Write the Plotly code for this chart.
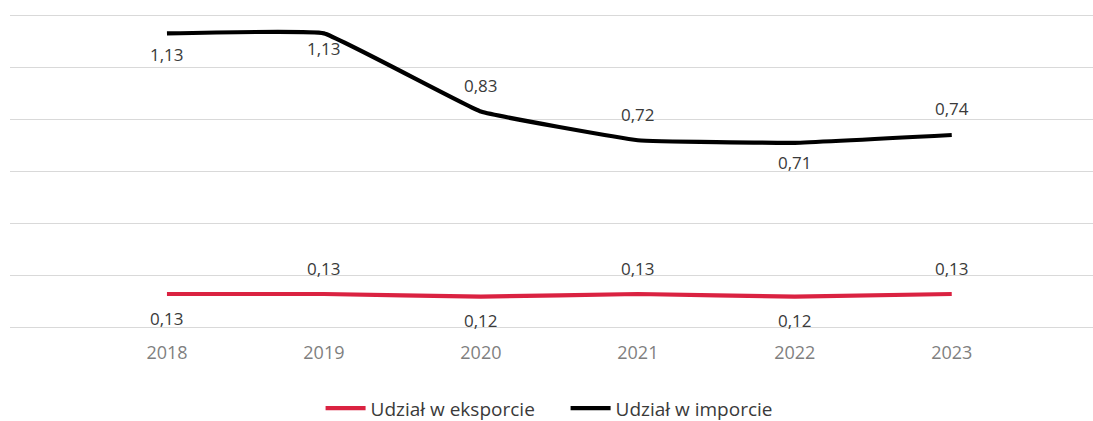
import plotly.graph_objects as go

years = ["2018", "2019", "2020", "2021", "2022", "2023"]
eksport = [0.13, 0.13, 0.12, 0.13, 0.12, 0.13]
import_ = [1.13, 1.13, 0.83, 0.72, 0.71, 0.74]
series_names = ["Udział w eksporcie", "Udział w imporcie"]

# label offsets in pixels (positive = above)
eks_shift = [-25, 25, -24, 25, -24, 25]
imp_shift = [-21, -15, 26, 26, -20, 27]

RED = "#DA2241"
BLACK = "#000000"
LABEL = "#3a3a3a"
FONT = "Open Sans"

xs = list(range(len(years)))

fig = go.Figure()
fig.add_trace(go.Scatter(x=xs, y=eksport, mode="lines", name=series_names[0],
                         line=dict(color=RED, width=4.2, shape="spline", smoothing=0.25),
                         hoverinfo="skip"))
fig.add_trace(go.Scatter(x=xs, y=import_, mode="lines", name=series_names[1],
                         line=dict(color=BLACK, width=4.2, shape="spline", smoothing=0.25),
                         hoverinfo="skip"))

def fmt(v):
    return f"{v:.2f}".replace(".", ",")

for vals, shifts in ((eksport, eks_shift), (import_, imp_shift)):
    for x, v, s in zip(xs, vals, shifts):
        fig.add_annotation(x=x, y=v, text=fmt(v), showarrow=False, yshift=s,
                           font=dict(family=FONT, size=17, color=LABEL))

fig.update_layout(
    width=1093, height=421,
    margin=dict(l=10, r=0, t=12, b=90),
    paper_bgcolor="white", plot_bgcolor="white",
    font=dict(family=FONT),
    showlegend=True,
    legend=dict(orientation="h", x=0.513, xanchor="center",
                yref="container", y=0.03, yanchor="middle",
                font=dict(family=FONT, size=19, color=LABEL), itemwidth=40,
                entrywidth=190, entrywidthmode="pixels",
                traceorder="normal"),
    xaxis=dict(range=[-1, 5.9], tickvals=xs, ticktext=years, showgrid=False,
               zeroline=False, showline=False, ticks="", ticklabelstandoff=9,
               tickfont=dict(family=FONT, size=18, color="#7f7f7f")),
    yaxis=dict(range=[-0.012, 1.212], dtick=0.2, tick0=0, showgrid=True,
               gridcolor="#d9d9d9", gridwidth=1, zeroline=False,
               showticklabels=False, showline=False, ticks=""),
)

fig.write_html("out.html", config={"displayModeBar": False},
               post_script="document.body.style.margin='0';document.body.style.overflow='hidden';")
